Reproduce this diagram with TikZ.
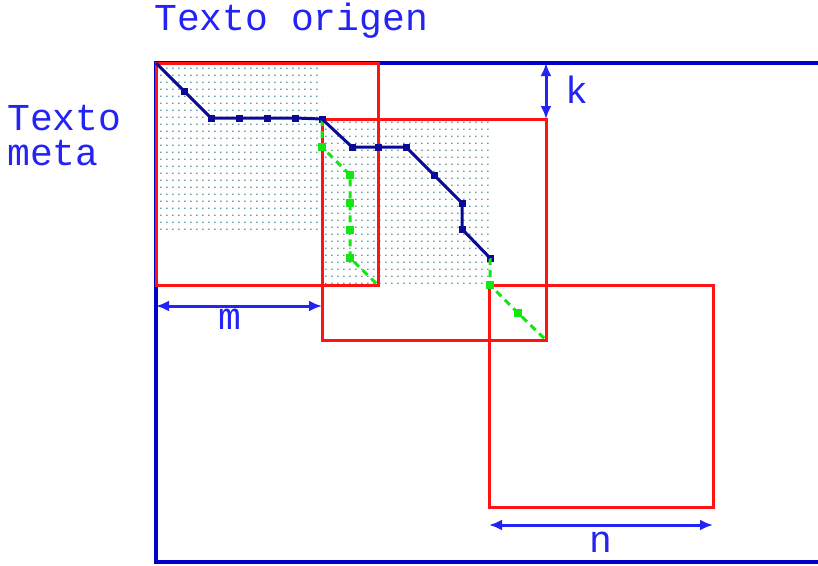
\documentclass[tikz,border=0pt]{standalone}
\usepackage{fontspec}
\setmonofont{Liberation Mono}
\usetikzlibrary{patterns,arrows.meta}

\definecolor{txtblue}{RGB}{35,35,245}
\definecolor{frameblue}{RGB}{0,0,200}
\definecolor{pathblue}{RGB}{10,10,150}
\definecolor{boxred}{RGB}{255,20,20}
\definecolor{gapgreen}{RGB}{20,230,20}
\definecolor{dotgray}{RGB}{100,160,165}

\pgfdeclarepatternformonly{dotgrid}{\pgfpointorigin}{\pgfpoint{5.5pt}{6.7pt}}{\pgfpoint{5.5pt}{6.7pt}}{
	\pgfpathrectangle{\pgfpointorigin}{\pgfpoint{1.7pt}{1.5pt}}
	\pgfusepath{fill}
}

\tikzset{
	lbl/.style={text=txtblue, font=\fontsize{38}{35}\selectfont\ttfamily, inner sep=0pt, align=left},
	frame/.style={frameblue, line width=3.5pt},
	window/.style={boxred, line width=3pt},
	route/.style={pathblue, line width=3pt},
	gap/.style={gapgreen, line width=3pt, dash pattern=on 7pt off 5pt},
	dim/.style={txtblue, line width=3pt, {Latex[length=13pt,width=11pt]}-{Latex[length=13pt,width=11pt]}},
	bmark/.style={rectangle, fill=pathblue, minimum size=7pt, inner sep=0pt},
	gmark/.style={rectangle, fill=gapgreen, minimum size=8pt, inner sep=0pt}
}

\begin{document}
\begin{tikzpicture}[x=1pt,y=-1pt]
		\useasboundingbox (0,0) rectangle (818,565);
		\fill [pattern=dotgrid, pattern color=dotgray] (156,63) rectangle (322,230);
		\fill [pattern=dotgrid, pattern color=dotgray] (322,119) rectangle (490,285);
		\draw [frame] (818,63) -- (156,63) -- (156,562) -- (818,562);
		\draw [window] (156,63) rectangle (378,285);
		\draw [window] (322,119) rectangle (546,340);
		\draw [window] (489,285) rectangle (713,507);
		\node [lbl, anchor=base west] (orig) at (154,30) {Texto origen};
		\node [lbl, anchor=base west] (meta) at (7,165) {Texto\\meta};
		\coordinate (p1) at (156,63);
		\foreach \n/\x/\y in {2/184/91, 3/211/118, 4/239/118, 5/267/118, 6/295/118, 7/322/119, 8/352/147, 9/378/147, 10/406/147, 11/434/175, 12/462/203, 13/462/229, 14/490/258}
			\node [bmark] (p\n) at (\x,\y) {};
		\foreach \n/\x/\y in {1/322/147, 2/350/175, 3/350/203, 4/350/230, 5/350/258}
			\node [gmark] (g\n) at (\x,\y) {};
		\coordinate (g6) at (378,285);
		\node [gmark] (h1) at (490,285) {};
		\node [gmark] (h2) at (518,313) {};
		\coordinate (h3) at (546,340);
		\draw [gap] (p7.center) -- (g1.center) -- (g2.center) -- (g3.center) -- (g4.center) -- (g5.center) -- (g6);
		\draw [gap] (p14.center) -- (h1.center) -- (h2.center) -- (h3);
		\draw [route] (p1) \foreach \n in {2,...,14} { -- (p\n.center) };
		\coordinate (k1) at (546,63);
		\coordinate (k2) at (546,119);
		\coordinate (m1) at (156,306);
		\coordinate (m2) at (322,306);
		\coordinate (n1) at (489,525);
		\coordinate (n2) at (713,525);
		\draw [dim] (k1) -- (k2);
		\draw [dim] (m1) -- (m2);
		\draw [dim] (n1) -- (n2);
		\node [lbl, anchor=base] (k) at (577,103) {k};
		\node [lbl, anchor=base] (m) at (230,329) {m};
		\node [lbl, anchor=base] (n) at (601,552) {n};
	\end{tikzpicture}
\end{document}
